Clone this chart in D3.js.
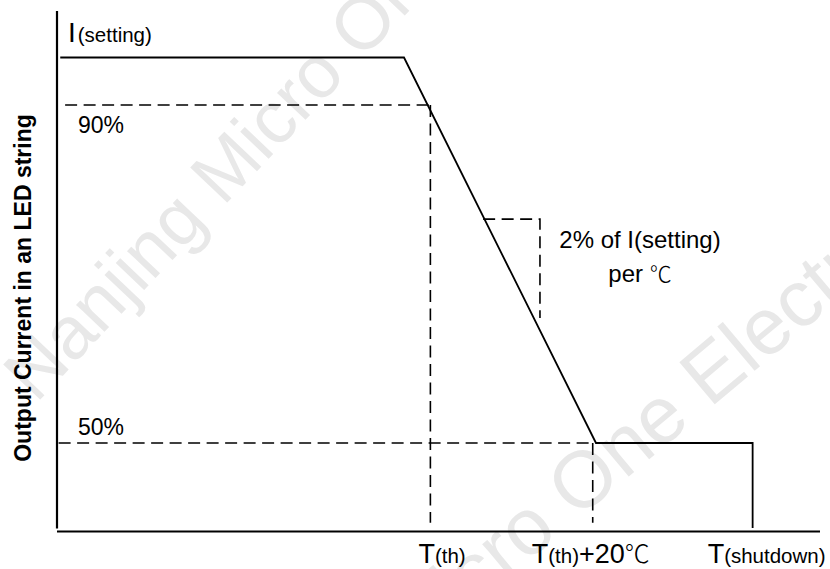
<!DOCTYPE html>
<html>
<head>
<meta charset="utf-8">
<script src="https://cdn.jsdelivr.net/npm/d3@7/dist/d3.min.js"></script>
<style>
  html, body { margin: 0; padding: 0; background: #fff; }
  svg { display: block; }
  text { font-family: "Liberation Sans", Arial, "Noto Sans CJK SC", sans-serif; fill: #000; }
</style>
</head>
<body>
<svg id="chart" width="830" height="569"></svg>
<script>
// ---- data (temperature in ℃ relative to T(th); current in % of I(setting)) ----
const curveT       = [-45.6, -3.25, 20.4, 39.7, 39.7];
const curveI       = [100, 100, 50, 50, 2];
const levelLabels  = ["90%", "50%"];
const levelValues  = [90, 50];
const levelEndT    = [0, 20];
const dropTs       = [0, 20];
const dropBottom   = [5, 5];
const slopeT       = [6.5, 13.5, 13.5];
const slopeI       = [76.5, 76.5, 64.8];
const slopeText    = ["2% of I(setting)", "per ℃"];
const tickT        = [0, 20, 39.7];
const tickMain     = ["T", "T", "T"];
const tickSub      = ["(th)", "(th)", "(shutdown)"];
const tickTail     = ["", "+20", ""];
const tickUnit     = ["", "℃", ""];
const yTitle       = "Output Current in an LED string";
const topMain      = "I";
const topSub       = "(setting)";
const watermark    = ["Nanjing Micro One", "Micro One Electronics"];

const svg = d3.select("#chart");

// schematic scales
const x = d3.scaleLinear().domain([-46, 48]).range([57, 820]);
const y = d3.scaleLinear().domain([0, 50, 90, 100]).range([531.5, 443, 105, 57.5]);

// watermark (light grey, rotated)
[[36, 404, -46.5, 74], [410, 660, -40, 80]].forEach((p, i) => {
  svg.append("text")
    .attr("transform", `translate(${p[0]},${p[1]}) rotate(${p[2]})`)
    .style("font-size", p[3] + "px")
    .style("fill", "#e8e8e8")
    .text(watermark[i]);
});

// axes lines
svg.append("line")
  .attr("x1", x(-46)).attr("x2", x(-46))
  .attr("y1", 11).attr("y2", y(0) - 3)
  .attr("stroke", "#000").attr("stroke-width", 2.2);
svg.append("line")
  .attr("x1", x(-46)).attr("x2", x(48))
  .attr("y1", y(0)).attr("y2", y(0))
  .attr("stroke", "#000").attr("stroke-width", 2.2);

// dashed reference levels
const dash = "12,6.5";
levelValues.forEach((v, i) => {
  svg.append("line")
    .attr("x1", x(i === 0 ? -45 : -45.8)).attr("x2", x(levelEndT[i]))
    .attr("y1", y(v)).attr("y2", y(v))
    .attr("stroke", "#000").attr("stroke-width", 1.6)
    .attr("stroke-dasharray", dash);
  svg.append("line")
    .attr("x1", x(dropTs[i])).attr("x2", x(dropTs[i]))
    .attr("y1", y(v)).attr("y2", y(dropBottom[i]))
    .attr("stroke", "#000").attr("stroke-width", 1.6)
    .attr("stroke-dasharray", dash);
  svg.append("text")
    .attr("x", 78)
    .attr("y", y(v) + (i === 0 ? 28 : -8))
    .style("font-size", "23px")
    .text(levelLabels[i]);
});

// slope triangle
svg.append("path")
  .attr("d", d3.line().x(d => x(d[0])).y(d => y(d[1]))(slopeT.map((t, i) => [t, slopeI[i]])))
  .attr("fill", "none").attr("stroke", "#000").attr("stroke-width", 1.6)
  .attr("stroke-dasharray", dash);

// main curve
svg.append("path")
  .attr("d", d3.line().x(d => x(d[0])).y(d => y(d[1]))(curveT.map((t, i) => [t, curveI[i]])))
  .attr("fill", "none").attr("stroke", "#000").attr("stroke-width", 1.8)
  .attr("stroke-linejoin", "miter");

// slope annotation
const st = svg.append("text").attr("text-anchor", "middle").style("font-size", "24px");
st.append("tspan").attr("x", 640).attr("y", 248).text(slopeText[0]);
st.append("tspan").attr("x", 640).attr("y", 282).text(slopeText[1].replace("℃", ""))
  .append("tspan").style("font-family", "'Noto Sans CJK SC', sans-serif").style("font-weight", 300)
  .style("font-size", "22px").text("℃");

// top label
const tl = svg.append("text").attr("x", 68).attr("y", 42);
tl.append("tspan").style("font-size", "28px").text(topMain);
tl.append("tspan").attr("dx", 2).style("font-size", "20.5px").text(topSub);

// x tick labels
tickT.forEach((t, i) => {
  const tx = svg.append("text")
    .attr("x", x(t) - (i === 2 ? 45 : (i === 1 ? 61 : 12)))
    .attr("y", 563);
  tx.append("tspan").style("font-size", "27px").text(tickMain[i]);
  tx.append("tspan").style("font-size", "20.5px").text(tickSub[i]);
  if (tickTail[i]) tx.append("tspan").style("font-size", "27px").text(tickTail[i]);
  if (tickUnit[i]) tx.append("tspan").style("font-family", "'Noto Sans CJK SC', sans-serif")
      .style("font-weight", 300).style("font-size", "25px").text(tickUnit[i]);
});

// y axis title
svg.append("text")
  .attr("transform", `translate(31, 288) rotate(-90)`)
  .attr("text-anchor", "middle")
  .style("font-size", "23px").style("font-weight", "bold")
  .text(yTitle);
</script>
</body>
</html>
